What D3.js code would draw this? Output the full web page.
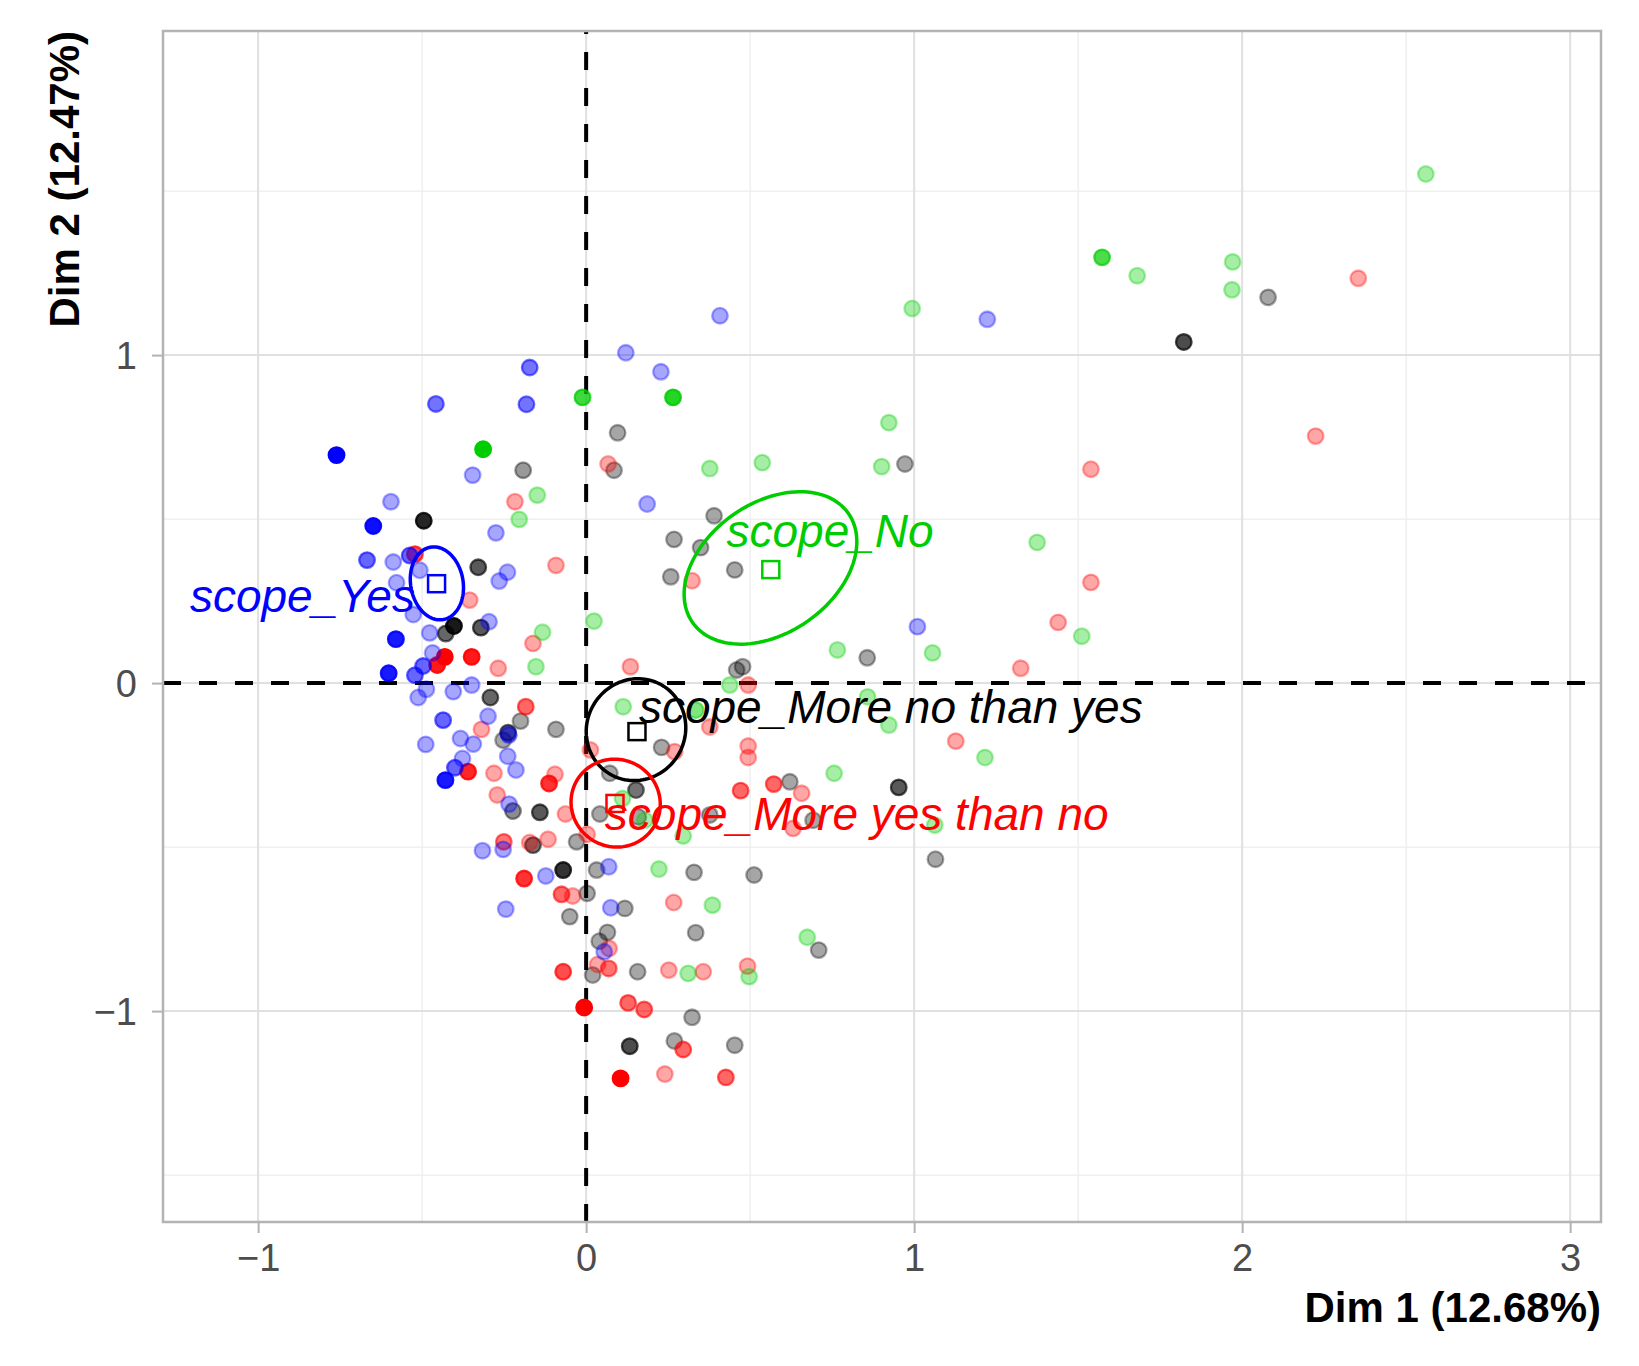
<!DOCTYPE html>
<html>
<head>
<meta charset="utf-8">
<script src="https://cdn.jsdelivr.net/npm/d3@7.9.0/dist/d3.min.js"></script>
<style>
  body { margin: 0; background: #fff; }
  text { font-family: 'Liberation Sans', Arial, sans-serif; }
</style>
</head>
<body>
<svg id="chart" width="1639" height="1366"></svg>
<script>
// axis titles and ticks
const xTitle = 'Dim 1 (12.68%)';
const yTitle = 'Dim 2 (12.47%)';
const xTicks = [-1, 0, 1, 2, 3];
const yTicks = [-1, 0, 1];
const xMinor = [-0.5, 0.5, 1.5, 2.5];
const yMinor = [-1.5, -0.5, 0.5, 1.5];

// categories of "scope" and their colours
const categories = ['More no than yes', 'More yes than no', 'No', 'Yes'];
const catColors = ['#000000', '#FF0000', '#00CD00', '#0000FF'];

// individuals: [dim1, dim2, cos2-like quality read as opacity]
const moreNoPts = [
  [-0.192,0.649,0.4],[-0.495,0.495,0.85],[-0.329,0.353,0.65],[-0.403,0.174,0.9],[-0.428,0.151,0.6],
  [-0.321,0.169,0.65],[-0.292,-0.044,0.6],[-0.200,-0.116,0.35],[-0.092,-0.141,0.35],[-0.238,-0.151,0.6],
  [-0.253,-0.174,0.35],[-0.223,-0.390,0.45],[-0.141,-0.394,0.65],[0.072,-0.275,0.35],[0.152,-0.326,0.55],
  [0.042,-0.399,0.35],[0.159,-0.408,0.35],[-0.029,-0.484,0.35],[-0.162,-0.494,0.55],[-0.070,-0.570,0.8],
  [0.032,-0.570,0.35],[0.329,-0.577,0.35],[0.003,-0.641,0.35],[-0.050,-0.712,0.35],[0.118,-0.687,0.35],
  [0.065,-0.760,0.35],[0.040,-0.787,0.35],[0.334,-0.761,0.35],[0.020,-0.890,0.35],[0.157,-0.880,0.35],
  [0.323,-1.019,0.35],[0.133,-1.107,0.7],[0.269,-1.091,0.35],[0.230,-0.196,0.35],[0.096,0.763,0.35],
  [0.085,0.649,0.35],[0.972,0.668,0.35],[0.390,0.510,0.35],[0.268,0.438,0.35],[0.349,0.413,0.35],
  [0.453,0.345,0.35],[0.258,0.324,0.35],[0.857,0.077,0.35],[0.477,0.050,0.35],[0.459,0.040,0.35],
  [0.621,-0.301,0.35],[0.953,-0.318,0.65],[0.377,-0.402,0.35],[0.692,-0.418,0.35],[1.065,-0.537,0.35],
  [0.512,-0.585,0.35],[0.709,-0.814,0.35],[0.453,-1.104,0.35],[2.079,1.176,0.35],[1.822,1.040,0.7]
];
const moreYesPts = [
  [-0.217,0.553,0.35],[-0.092,0.359,0.35],[-0.522,0.393,0.7],[-0.355,0.253,0.35],[-0.162,0.121,0.35],
  [-0.431,0.080,1],[-0.349,0.080,0.9],[-0.268,0.045,0.35],[0.135,0.050,0.35],[-0.454,0.055,0.9],
  [-0.184,-0.072,0.6],[-0.319,-0.141,0.35],[-0.360,-0.270,0.85],[-0.281,-0.275,0.35],[-0.095,-0.278,0.35],
  [-0.113,-0.306,0.8],[0.013,-0.204,0.35],[-0.271,-0.341,0.35],[-0.063,-0.399,0.35],[0.003,-0.461,0.35],
  [-0.251,-0.484,0.55],[-0.172,-0.486,0.35],[-0.116,-0.476,0.35],[-0.189,-0.596,0.8],[-0.075,-0.644,0.6],
  [-0.041,-0.649,0.35],[0.267,-0.669,0.35],[0.070,-0.809,0.35],[-0.070,-0.880,0.7],[0.035,-0.858,0.35],
  [0.069,-0.870,0.55],[0.252,-0.875,0.35],[0.357,-0.880,0.35],[-0.006,-0.989,1],[0.128,-0.975,0.6],
  [0.177,-0.995,0.6],[0.296,-1.117,0.6],[0.377,-0.134,0.35],[0.270,-0.209,0.35],[0.105,-1.205,1],
  [0.240,-1.192,0.35],[0.067,0.668,0.35],[0.323,0.312,0.35],[0.494,-0.006,0.35],[0.494,-0.192,0.35],
  [0.494,-0.227,0.35],[1.127,-0.177,0.35],[0.471,-0.328,0.6],[0.572,-0.308,0.6],[0.657,-0.336,0.35],
  [0.631,-0.443,0.35],[0.492,-0.863,0.35],[0.426,-1.202,0.6],[2.354,1.234,0.35],[2.224,0.753,0.35],
  [1.539,0.652,0.35],[1.539,0.307,0.35],[1.439,0.185,0.35],[1.325,0.045,0.35]
];
const noPts = [
  [-0.314,0.713,1],[-0.149,0.573,0.35],[-0.204,0.499,0.35],[-0.133,0.155,0.35],[-0.153,0.050,0.35],
  [0.994,1.142,0.35],[-0.011,0.871,0.75],[0.265,0.871,0.85],[0.923,0.794,0.35],[0.377,0.654,0.35],
  [0.537,0.672,0.35],[0.901,0.660,0.35],[0.024,0.189,0.35],[0.766,0.101,0.35],[1.056,0.092,0.35],
  [0.438,-0.006,0.35],[0.113,-0.072,0.35],[0.334,-0.082,0.5],[0.111,-0.352,0.35],[0.179,-0.418,0.35],
  [0.296,-0.466,0.35],[0.222,-0.567,0.35],[0.385,-0.677,0.35],[0.311,-0.885,0.35],[0.858,-0.042,0.35],
  [0.923,-0.128,0.35],[1.216,-0.227,0.35],[0.756,-0.275,0.35],[1.063,-0.433,0.35],[0.674,-0.775,0.35],
  [0.497,-0.895,0.35],[2.560,1.552,0.35],[1.573,1.298,0.7],[1.680,1.242,0.35],[1.971,1.284,0.35],
  [1.969,1.199,0.35],[1.375,0.429,0.35],[1.511,0.143,0.35]
];
const yesPts = [
  [-0.172,0.962,0.55],[-0.458,0.851,0.55],[-0.182,0.850,0.55],[-0.761,0.695,1],[-0.346,0.634,0.35],
  [-0.595,0.553,0.35],[-0.649,0.479,0.95],[-0.275,0.458,0.35],[-0.538,0.389,0.6],[-0.668,0.375,0.6],
  [-0.588,0.369,0.35],[-0.240,0.338,0.35],[-0.265,0.311,0.35],[-0.507,0.344,0.35],[-0.578,0.306,0.35],
  [-0.527,0.209,0.35],[-0.296,0.187,0.35],[-0.580,0.134,0.9],[-0.477,0.153,0.35],[-0.468,0.092,0.35],
  [-0.602,0.030,0.9],[-0.522,0.024,0.6],[-0.497,0.052,0.6],[-0.487,-0.019,0.35],[-0.512,-0.044,0.35],
  [-0.405,-0.026,0.35],[-0.349,-0.006,0.35],[-0.436,-0.113,0.6],[-0.299,-0.101,0.35],[-0.236,-0.158,0.5],
  [-0.383,-0.169,0.35],[-0.344,-0.186,0.35],[-0.489,-0.187,0.35],[-0.377,-0.230,0.35],[-0.400,-0.258,0.6],
  [-0.429,-0.296,0.9],[-0.239,-0.223,0.35],[-0.214,-0.265,0.35],[-0.235,-0.369,0.35],[-0.316,-0.511,0.35],
  [-0.253,-0.507,0.35],[-0.123,-0.588,0.35],[0.069,-0.560,0.35],[-0.245,-0.689,0.35],[0.075,-0.685,0.35],
  [0.055,-0.819,0.35],[0.408,1.120,0.35],[0.121,1.007,0.35],[0.228,0.949,0.35],[0.186,0.546,0.35],
  [1.010,0.172,0.35],[1.223,1.109,0.35]
];

// category centroids and confidence ellipses: [cx, cy, semi-axis a, semi-axis b, angle deg]
const centroids = [[0.155, -0.148], [0.088, -0.367], [0.563, 0.346], [-0.456, 0.303]];
const ellipses = [
  [0.152, -0.142, 0.157, 0.150, 60],
  [0.090, -0.366, 0.137, 0.133, -30],
  [0.562, 0.351, 0.290, 0.198, 35],
  [-0.455, 0.304, 0.112, 0.080, 100]
];
// repelled label anchors (text start, baseline), data units
const labelPos = [[0.161, -0.122], [0.057, -0.448], [0.428, 0.414], [-1.208, 0.217]];

const groups = [moreNoPts, moreYesPts, noPts, yesPts];

const svg = d3.select('#chart');
const margin = { left: 163, right: 1601, top: 31, bottom: 1222 };

const x = d3.scaleLinear().domain([-1.29, 3.094]).range([margin.left, margin.right]);
const y = d3.scaleLinear().domain([-1.643, 1.988]).range([margin.bottom, margin.top]);

// grid
const grid = svg.append('g');
grid.selectAll('.vminor').data(xMinor).join('line')
  .attr('x1', d => x(d)).attr('x2', d => x(d))
  .attr('y1', margin.top).attr('y2', margin.bottom)
  .attr('stroke', '#EDEDED').attr('stroke-width', 1.3);
grid.selectAll('.hminor').data(yMinor).join('line')
  .attr('y1', d => y(d)).attr('y2', d => y(d))
  .attr('x1', margin.left).attr('x2', margin.right)
  .attr('stroke', '#EDEDED').attr('stroke-width', 1.3);
grid.selectAll('.vmajor').data(xTicks).join('line')
  .attr('x1', d => x(d)).attr('x2', d => x(d))
  .attr('y1', margin.top).attr('y2', margin.bottom)
  .attr('stroke', '#E0E0E0').attr('stroke-width', 2);
grid.selectAll('.hmajor').data(yTicks).join('line')
  .attr('y1', d => y(d)).attr('y2', d => y(d))
  .attr('x1', margin.left).attr('x2', margin.right)
  .attr('stroke', '#E0E0E0').attr('stroke-width', 2);

// axes
const fmt = d => (d < 0 ? '\u2212' + Math.abs(d) : String(d));
const xAxis = svg.append('g')
  .attr('transform', `translate(0,${margin.bottom})`)
  .call(d3.axisBottom(x).tickValues(xTicks).tickFormat(fmt).tickSize(11).tickPadding(11));
const yAxis = svg.append('g')
  .attr('transform', `translate(${margin.left},0)`)
  .call(d3.axisLeft(y).tickValues(yTicks).tickFormat(fmt).tickSize(11).tickPadding(15));
[xAxis, yAxis].forEach(ax => {
  ax.select('.domain').remove();
  ax.selectAll('.tick line').attr('stroke', '#B3B3B3').attr('stroke-width', 2);
  ax.selectAll('.tick text').attr('fill', '#4D4D4D')
    .style('font-size', '38px').style('font-family', "'Liberation Sans', Arial, sans-serif");
});
yAxis.selectAll('.tick text').attr('dy', '0.36em');

// reference dashed lines at 0
svg.append('line')
  .attr('x1', margin.left).attr('x2', margin.right)
  .attr('y1', y(0)).attr('y2', y(0))
  .attr('stroke', '#000').attr('stroke-width', 4).attr('stroke-dasharray', '18,18');
svg.append('line')
  .attr('x1', x(0)).attr('x2', x(0))
  .attr('y1', margin.bottom).attr('y2', margin.top)
  .attr('stroke', '#000').attr('stroke-width', 4).attr('stroke-dasharray', '18,18');

// individuals
const allPts = [];
groups.forEach((pts, gi) => pts.forEach(p => allPts.push({ x: p[0], y: p[1], q: p[2], g: gi })));
svg.append('g').selectAll('circle').data(allPts).join('circle')
  .attr('cx', d => x(d.x)).attr('cy', d => y(d.y))
  .attr('r', 7.8)
  .attr('fill', d => catColors[d.g]).attr('fill-opacity', d => d.q)
  .attr('stroke', d => catColors[d.g]).attr('stroke-opacity', d => d.q)
  .attr('stroke-width', 2.3);

// ellipses
const ellLine = d3.line().x(d => x(d[0])).y(d => y(d[1])).curve(d3.curveLinearClosed);
svg.append('g').selectAll('path').data(ellipses).join('path')
  .attr('d', e => {
    const th = e[4] * Math.PI / 180;
    const pts = d3.range(0, 360, 3).map(t => {
      const a = t * Math.PI / 180;
      const u = e[2] * Math.cos(a), v = e[3] * Math.sin(a);
      return [e[0] + u * Math.cos(th) - v * Math.sin(th), e[1] + u * Math.sin(th) + v * Math.cos(th)];
    });
    return ellLine(pts);
  })
  .attr('fill', 'none')
  .attr('stroke', (e, i) => catColors[i])
  .attr('stroke-width', 3.5);

// centroid squares
const sq = 17;
svg.append('g').selectAll('rect').data(centroids).join('rect')
  .attr('x', d => x(d[0]) - sq / 2).attr('y', d => y(d[1]) - sq / 2)
  .attr('width', sq).attr('height', sq)
  .attr('fill', 'none')
  .attr('stroke', (d, i) => catColors[i]).attr('stroke-width', 2.5);

// category labels
svg.append('g').selectAll('text').data(categories).join('text')
  .attr('x', (d, i) => x(labelPos[i][0]))
  .attr('y', (d, i) => y(labelPos[i][1]))
  .attr('fill', (d, i) => catColors[i])
  .style('font-size', '46px').style('font-style', 'italic')
  .text(d => 'scope_' + d);

// panel border
svg.append('rect')
  .attr('x', margin.left).attr('y', margin.top)
  .attr('width', margin.right - margin.left).attr('height', margin.bottom - margin.top)
  .attr('fill', 'none').attr('stroke', '#B3B3B3').attr('stroke-width', 2.5);

// axis titles
svg.append('text')
  .attr('x', margin.right).attr('y', 1322)
  .attr('text-anchor', 'end')
  .style('font-size', '42px').style('font-weight', 'bold')
  .text(xTitle);
svg.append('text')
  .attr('transform', `translate(79,${margin.top}) rotate(-90)`)
  .attr('text-anchor', 'end')
  .style('font-size', '42px').style('font-weight', 'bold')
  .text(yTitle);
</script>
</body>
</html>
